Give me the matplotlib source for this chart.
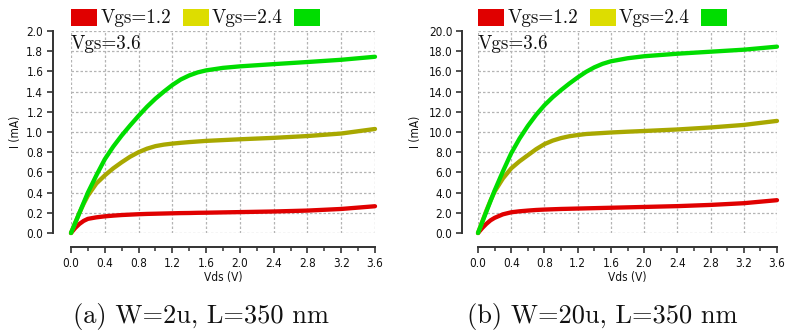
import matplotlib
matplotlib.use("Agg")
import matplotlib.pyplot as plt
from matplotlib.patches import Rectangle
from matplotlib.ticker import MultipleLocator, FormatStrFormatter

# ---------------- data ----------------
vds = [0.0, 0.05, 0.1, 0.15, 0.2, 0.3, 0.4, 0.5, 0.6, 0.7, 0.8, 0.9, 1.0, 1.1, 1.2,
       1.3, 1.4, 1.5, 1.6, 1.8, 2.0, 2.4, 2.8, 3.2, 3.6]

# (a) W=2u, L=350 nm   (mA)
a_vgs12 = [0, 0.05, 0.09, 0.12, 0.14, 0.155, 0.165, 0.172, 0.178, 0.182, 0.186, 0.189, 0.191,
           0.193, 0.195, 0.197, 0.198, 0.200, 0.201, 0.204, 0.207, 0.213, 0.222, 0.238, 0.265]
a_vgs24 = [0, 0.10, 0.20, 0.29, 0.37, 0.49, 0.57, 0.64, 0.70, 0.755, 0.80, 0.835, 0.86,
           0.875, 0.885, 0.893, 0.90, 0.906, 0.912, 0.92, 0.928, 0.942, 0.96, 0.985, 1.03]
a_vgs36 = [0, 0.10, 0.20, 0.30, 0.40, 0.57, 0.73, 0.855, 0.965, 1.065, 1.16, 1.25, 1.33,
           1.40, 1.465, 1.52, 1.56, 1.59, 1.61, 1.635, 1.65, 1.672, 1.693, 1.715, 1.745]

# (b) W=20u, L=350 nm  (mA)
b_vgs12 = [0, 0.48, 0.9, 1.25, 1.5, 1.85, 2.05, 2.15, 2.22, 2.28, 2.32, 2.35, 2.38,
           2.40, 2.42, 2.44, 2.46, 2.48, 2.50, 2.54, 2.58, 2.66, 2.78, 2.95, 3.25]
b_vgs24 = [0, 1.1, 2.2, 3.2, 4.1, 5.4, 6.4, 7.1, 7.7, 8.3, 8.8, 9.15, 9.4,
           9.58, 9.7, 9.8, 9.85, 9.9, 9.95, 10.03, 10.1, 10.25, 10.45, 10.7, 11.1]
b_vgs36 = [0, 1.05, 2.1, 3.15, 4.2, 6.1, 7.9, 9.35, 10.6, 11.7, 12.65, 13.45, 14.15,
           14.8, 15.4, 15.95, 16.4, 16.75, 17.0, 17.3, 17.5, 17.75, 17.95, 18.15, 18.45]

legend_labels = ["Vgs=1.2", "Vgs=2.4", "Vgs=3.6"]
x_ticks = [0.0, 0.4, 0.8, 1.2, 1.6, 2.0, 2.4, 2.8, 3.2, 3.6]
captions = ["(a) W=2u, L=350 nm", "(b) W=20u, L=350 nm"]

line_colors = ["#e00000", "#a8a800", "#00dd00"]
patch_colors = ["#e00000", "#dddd00", "#00dd00"]

# ---------------- figure ----------------
W, H = 785, 336
fig = plt.figure(figsize=(W / 100, H / 100), dpi=100)

tick_font = ["Liberation Sans Narrow", "DejaVu Sans"]
serif_font = ["cmr10", "DejaVu Serif"]
PT = 72 / 100  # points per pixel


def fx(px):
    return px / W


def fy(py):
    return 1 - py / H


panels = [
    dict(x0=71, x1=375, spine_off=18, ymax=2.0, ystep=0.2,
         data=[a_vgs12, a_vgs24, a_vgs36], ylab_x=15, cap_x=201),
    dict(x0=478, x1=777, spine_off=16, ymax=20.0, ystep=2.0,
         data=[b_vgs12, b_vgs24, b_vgs36], ylab_x=415, cap_x=602),
]
top, bot = 31, 233

for i, p in enumerate(panels):
    ax = fig.add_axes([fx(p["x0"]), fy(bot), fx(p["x1"] - p["x0"]), (bot - top) / H])
    ax.set_xlim(0, 3.6)
    ax.set_ylim(0, p["ymax"])

    for ys, c in zip(p["data"], line_colors):
        ax.plot(vds, ys, color=c, lw=3.1, solid_capstyle="round",
                solid_joinstyle="round", zorder=3, clip_on=False)

    ax.set_xticks(x_ticks)
    ax.xaxis.set_minor_locator(MultipleLocator(0.2))
    ax.xaxis.set_major_formatter(FormatStrFormatter("%.1f"))
    ax.yaxis.set_major_locator(MultipleLocator(p["ystep"]))
    ax.yaxis.set_major_formatter(FormatStrFormatter("%.1f"))

    ax.grid(True, which="major", color="#b4b4b4", lw=0.9, ls=(0, (2.0, 1.6)), zorder=1)
    for s in ["top", "right"]:
        ax.spines[s].set_visible(False)
    ax.spines["left"].set_position(("outward", p["spine_off"] * PT))
    ax.spines["bottom"].set_position(("outward", 14 * PT))
    for s in ["left", "bottom"]:
        ax.spines[s].set_color("#333333")
        ax.spines[s].set_linewidth(1.4)

    ax.tick_params(axis="x", which="major", length=4, width=1.2, color="#333333",
                   pad=3, labelsize=8.5)
    ax.tick_params(axis="x", which="minor", length=3, width=1.1, color="#333333")
    ax.tick_params(axis="y", which="major", length=4, width=1.2, color="#333333",
                   pad=3, labelsize=8.5)
    for lab in ax.get_xticklabels() + ax.get_yticklabels():
        lab.set_family(tick_font)
        lab.set_stretch("condensed")
        lab.set_color("#111111")

    # axis labels
    fig.text(fx((p["x0"] + p["x1"]) / 2), fy(277), "Vds (V)", ha="center", va="center",
             fontsize=8.5, family=tick_font, stretch="condensed", color="#111111")
    fig.text(fx(p["ylab_x"]), fy(132), "I (mA)", ha="center", va="center", rotation=90,
             fontsize=8.5, family=tick_font, stretch="condensed", color="#111111")

    # legend (wrapped like the original)
    x0 = p["x0"]
    pos = [(x0, 9), (x0 + 112, 9), (x0 + 223, 9)]
    text_pos = [(x0 + 30, 18), (x0 + 141, 18), (x0, 44)]
    for (lx, ly), col in zip(pos, patch_colors):
        fig.patches.append(Rectangle((fx(lx), fy(ly + 17)), fx(26), 17 / H,
                                     transform=fig.transFigure, color=col, lw=0))
    for (tx, ty), lab in zip(text_pos, legend_labels):
        fig.text(fx(tx), fy(ty), lab, ha="left", va="center", fontsize=13.8,
                 family=serif_font, color="#111111")

    # caption
    fig.text(fx(p["cap_x"]), fy(316), captions[i], ha="center", va="center",
             fontsize=19, family=serif_font, color="#111111")

fig.savefig("out.png", dpi=100)
